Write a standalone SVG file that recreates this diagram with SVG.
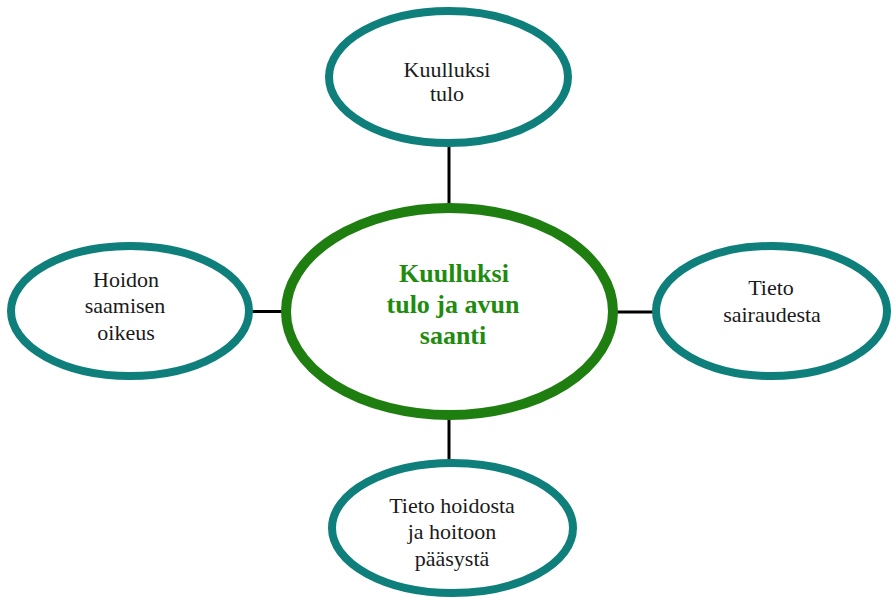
<svg xmlns="http://www.w3.org/2000/svg" width="891" height="599" viewBox="0 0 891 599">
  <style>
    .sat { fill: #ffffff; stroke: #0e7f7a; stroke-width: 8; }
    .hub { fill: #ffffff; stroke: #1f7e10; stroke-width: 10; }
    .link { stroke: #000000; stroke-width: 3; fill: none; }
    .lbl { font-family: 'Liberation Serif', 'Times New Roman', Times, 'DejaVu Serif', serif; font-size: 22px; fill: #1a1a1a; text-anchor: middle; }
    .hubl { font-family: 'Liberation Serif', 'Times New Roman', Times, 'DejaVu Serif', serif; font-size: 26px; font-weight: bold; fill: #1f8c10; text-anchor: middle; }
  </style>
  <rect width="891" height="599" fill="#ffffff"/>

  <!-- connectors -->
  <g id="connectors">
    <line class="link" x1="449" y1="146" x2="449" y2="204"/>
    <line class="link" x1="252" y1="311.5" x2="282" y2="311.5"/>
    <line class="link" x1="617" y1="312" x2="653" y2="312"/>
    <line class="link" x1="449" y1="419" x2="449" y2="460"/>
  </g>

  <g id="node-top">
    <ellipse class="sat" cx="448.5" cy="77" rx="119.5" ry="66"/>
    <text class="lbl" x="447" y="77">Kuulluksi</text>
    <text class="lbl" x="447" y="101">tulo</text>
  </g>

  <g id="node-left">
    <ellipse class="sat" cx="130" cy="311" rx="119" ry="65"/>
    <text class="lbl" x="126" y="287">Hoidon</text>
    <text class="lbl" x="125" y="313">saamisen</text>
    <text class="lbl" x="126" y="340">oikeus</text>
  </g>

  <g id="node-right">
    <ellipse class="sat" cx="771.5" cy="311" rx="115.5" ry="65"/>
    <text class="lbl" x="771" y="295">Tieto</text>
    <text class="lbl" x="772" y="322">sairaudesta</text>
  </g>

  <g id="node-bottom">
    <ellipse class="sat" cx="452.5" cy="528" rx="120.5" ry="65"/>
    <text class="lbl" x="452" y="513">Tieto hoidosta</text>
    <text class="lbl" x="452" y="539">ja hoitoon</text>
    <text class="lbl" x="452" y="566">pääsystä</text>
  </g>

  <g id="node-center">
    <ellipse class="hub" cx="449.5" cy="311.5" rx="163.5" ry="103.5"/>
    <text class="hubl" x="454" y="282">Kuulluksi</text>
    <text class="hubl" x="453" y="313">tulo ja avun</text>
    <text class="hubl" x="453" y="344">saanti</text>
  </g>
</svg>
